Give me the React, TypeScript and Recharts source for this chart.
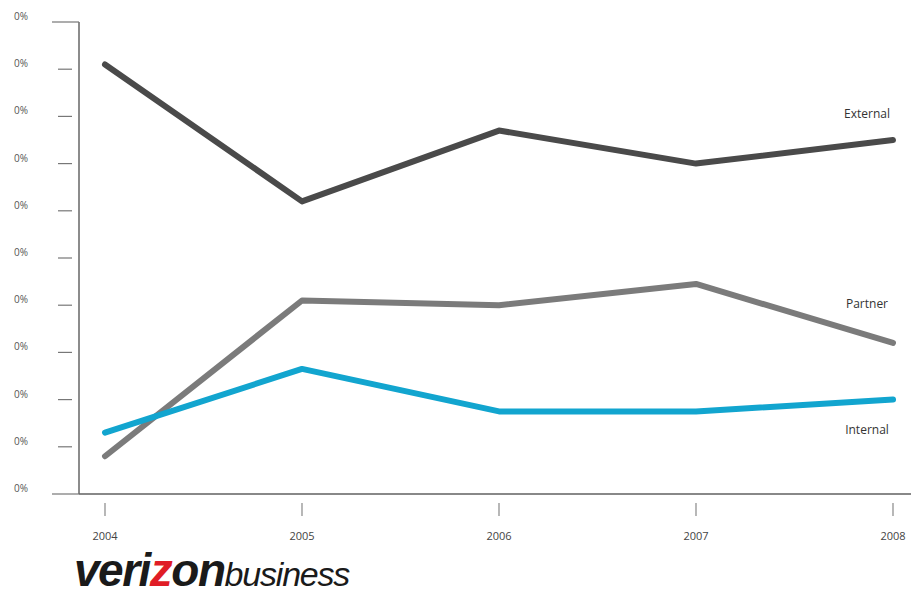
import { LineChart, Line, XAxis, YAxis, LabelList } from 'recharts'

const years = ['2004', '2005', '2006', '2007', '2008']
const external = [91, 62, 77, 70, 75]
const partner = [8, 41, 40, 44.5, 32]
const internal = [13, 26.5, 17.5, 17.5, 20]
const yTicks = [0, 10, 20, 30, 40, 50, 60, 70, 80, 90, 100]
const yTickLabels = ['0%', '0%', '0%', '0%', '0%', '0%', '0%', '0%', '0%', '0%', '0%']

const data = years.map((year, i) => ({
  year,
  External: external[i],
  Partner: partner[i],
  Internal: internal[i],
}))

const SERIES = [
  { key: 'External', color: '#4a4a4a', dy: -22 },
  { key: 'Partner', color: '#7b7b7b', dy: -35 },
  { key: 'Internal', color: '#12a5cf', dy: 34 },
]

const FONT = '"Open Sans", "DejaVu Sans", sans-serif'

const YTick = ({ x, y, payload, index }: any) => {
  const long = payload.value === 0 || payload.value === 100
  return (
    <g>
      <line x1={long ? x - 27 : x - 21} x2={long ? x : x - 7} y1={y} y2={y} stroke="#777" strokeWidth={1.2} />
      <text x={x - 65} y={y - 2} fontSize={10} fill="#555" fontFamily={FONT}>
        {yTickLabels[index] ?? ''}
      </text>
    </g>
  )
}

const XTick = ({ x, y, payload }: any) => (
  <g>
    <line x1={x} x2={x} y1={y + 9} y2={y + 22} stroke="#888" strokeWidth={1.2} />
    <text x={x} y={y + 46} textAnchor="middle" fontSize={11} fill="#444" fontFamily={FONT}>
      {payload.value}
    </text>
  </g>
)

const endLabel = (name: string, dy: number) => (props: any) => {
  const { x, y, index } = props
  if (index !== years.length - 1) return null
  return (
    <text x={x - 26} y={y + dy} textAnchor="middle" fontSize={12} fill="#333" fontFamily={FONT}>
      {name}
    </text>
  )
}

export default function App() {
  return (
    <div style={{ position: 'absolute', left: 0, top: 0, width: 911, height: 595, background: '#fff' }}>
      <LineChart width={911} height={595} data={data} margin={{ top: 22, right: 0, left: 0, bottom: 71 }}>
        <XAxis
          dataKey="year"
          padding={{ left: 26, right: 18 }}
          stroke="#888"
          strokeWidth={2}
          tickSize={0}
          tickMargin={0}
          tickLine={false}
          tick={<XTick />}
          interval={0}
        />
        <YAxis
          domain={[0, 100]}
          ticks={yTicks}
          width={79}
          stroke="#666"
          strokeWidth={1.5}
          tickSize={0}
          tickMargin={0}
          tickLine={false}
          tick={<YTick />}
          interval={0}
        />
        {SERIES.map((s) => (
          <Line
            key={s.key}
            dataKey={s.key}
            stroke={s.color}
            strokeWidth={6}
            strokeLinecap="round"
            strokeLinejoin="round"
            dot={false}
            activeDot={false}
            isAnimationActive={false}
          >
            <LabelList dataKey={s.key} content={endLabel(s.key, s.dy)} />
          </Line>
        ))}
      </LineChart>
      <div
        style={{
          position: 'absolute',
          left: 74,
          top: 550,
          height: 40,
          lineHeight: '40px',
          fontFamily: '"Liberation Sans", Arial, sans-serif',
          fontStyle: 'italic',
          color: '#1a1a1a',
          whiteSpace: 'nowrap',
          letterSpacing: -1.5,
        }}
      >
        <span style={{ fontSize: 46, fontWeight: 900 }}>veri</span>
        <span style={{ fontSize: 46, fontWeight: 900, color: '#e01d26' }}>z</span>
        <span style={{ fontSize: 46, fontWeight: 900 }}>on</span>
        <span style={{ fontSize: 34, fontWeight: 400, letterSpacing: -1.2 }}>business</span>
      </div>
    </div>
  )
}
